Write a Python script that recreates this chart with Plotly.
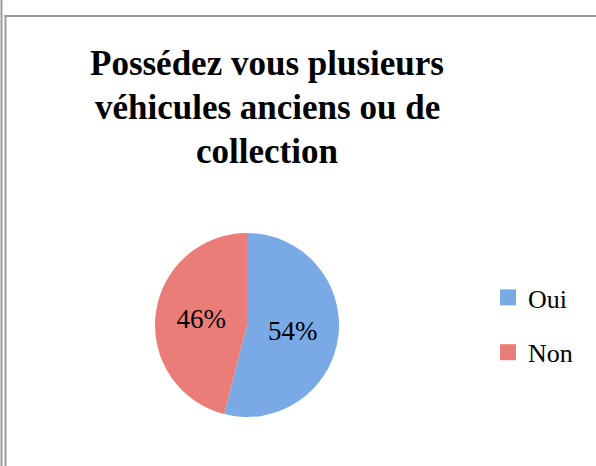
import plotly.graph_objects as go

title_lines = ["Possédez vous plusieurs", "véhicules anciens ou de", "collection"]
labels = ["Oui", "Non"]
values = [54, 46]
colors = ["#7AAAE6", "#EA7D78"]

W, H = 596, 466
serif = "Liberation Serif"

fig = go.Figure(go.Pie(
    labels=labels, values=values, sort=False, direction="clockwise", rotation=0,
    marker=dict(colors=colors, line=dict(width=0)),
    texttemplate="%{percent:.0%}", textposition="inside",
    insidetextorientation="horizontal",
    textfont=dict(family=serif, size=27, color="black"),
    domain=dict(x=[155 / W, 339 / W], y=[(H - 417) / H, (H - 233) / H]),
    showlegend=False,
))

# legend entries as square markers, so the spacing can match
for lab, col in zip(labels, colors):
    fig.add_trace(go.Scatter(x=[None], y=[None], mode="markers", name=lab,
                             marker=dict(symbol="square", size=16, color=col),
                             legendgroup=lab, showlegend=True))

# title, one annotation per line
for i, line in enumerate(title_lines):
    fig.add_annotation(text="<b>" + line + "</b>", x=267 / W, y=1 - (77 + 44 * i) / H,
                       xref="paper", yref="paper", xanchor="center", yanchor="bottom",
                       yshift=-8, showarrow=False,
                       font=dict(family=serif, size=35, color="black"))

# frame
fig.add_shape(type="line", xref="paper", yref="paper", x0=1.5 / W, x1=1.5 / W, y0=0, y1=1,
              line=dict(color="#999999", width=2))
fig.add_shape(type="line", xref="paper", yref="paper", x0=5.5 / W, x1=5.5 / W, y0=0, y1=1 - 15 / H,
              line=dict(color="#999999", width=2))
fig.add_shape(type="line", xref="paper", yref="paper", x0=4.5 / W, x1=1, y0=1 - 16 / H, y1=1 - 16 / H,
              line=dict(color="#999999", width=2))

fig.update_layout(
    width=W, height=H, margin=dict(l=0, r=0, t=0, b=0),
    paper_bgcolor="white", plot_bgcolor="white",
    xaxis=dict(visible=False), yaxis=dict(visible=False),
    showlegend=True,
    legend=dict(x=488 / W, y=1 - 325 / H, xanchor="left", yanchor="middle",
                font=dict(family=serif, size=26, color="black"),
                itemwidth=30, tracegroupgap=18, bgcolor="rgba(0,0,0,0)"),
)

fig.write_html("out.html", config={"displayModeBar": False},
               post_script="document.body.style.margin='0';")
